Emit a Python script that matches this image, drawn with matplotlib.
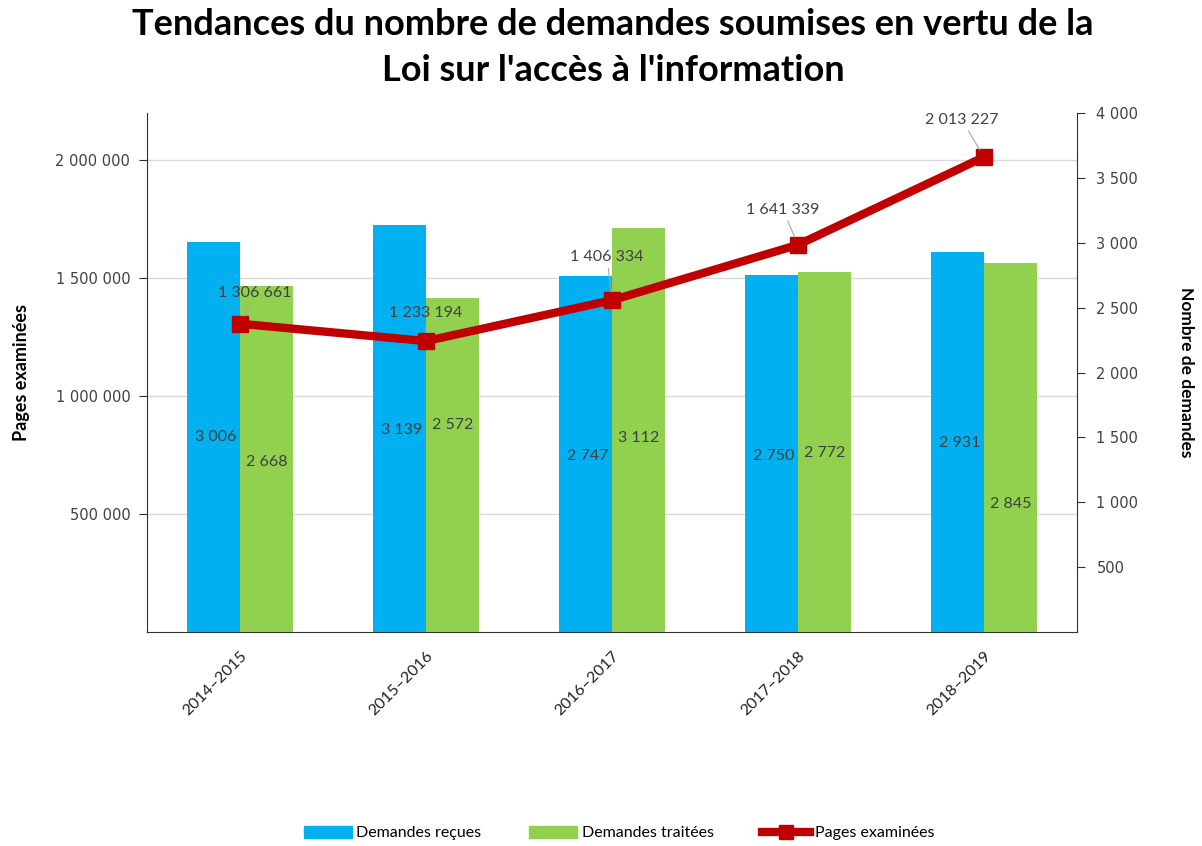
import numpy as np
import matplotlib.pyplot as plt
from matplotlib.lines import Line2D
from matplotlib.patches import Patch

years = ["2014–2015", "2015–2016", "2016–2017", "2017–2018", "2018–2019"]
recues = [3006, 3139, 2747, 2750, 2931]
traitees = [2668, 2572, 3112, 2772, 2845]
pages = [1306661, 1233194, 1406334, 1641339, 2013227]

# positions of the data labels (as in the original chart)
recues_lab_y = [1503, 1557, 1356, 1356, 1457]
traitees_lab_y = [1310, 1595, 1495, 1380, 987]
pages_lab_off = [(15, 31), (0, 28), (-5, 43), (-15, 35), (-22, 37)]  # pixels

def fmt(v):
    return f"{v:,.0f}".replace(",", " ")

bleu = "#00B0F0"
vert = "#92D050"
rouge = "#C00000"
gris = "#404040"

fig = plt.figure(figsize=(12.02, 8.46), dpi=100)
pos = [147 / 1202, 1 - 632 / 846, 930 / 1202, 519 / 846]

# axe gauche : pages examinées (grille)
ax = fig.add_axes(pos)
ax.set_xlim(-0.5, 4.5)
ax.set_ylim(0, 2200000)
ax.set_yticks([500000, 1000000, 1500000, 2000000])
ax.set_yticklabels([fmt(v) for v in ax.get_yticks()], fontsize=10.5, color=gris)
ax.yaxis.grid(True, color="#d9d9d9", linewidth=1)
ax.set_axisbelow(True)
ax.set_ylabel("Pages examinées", fontsize=13, fontweight="bold", family="Lato", labelpad=18)
for s in ["top", "right"]:
    ax.spines[s].set_visible(False)
ax.spines["left"].set_color("#303030")
ax.spines["bottom"].set_color("#303030")
ax.tick_params(axis="y", length=6, color="#303030", pad=6)
x = np.arange(len(years))
ax.set_xticks(x)
ax.set_xticklabels(years, rotation=45, ha="right", rotation_mode="anchor",
                   fontsize=11.5, family="Lato", color="#202020")
ax.tick_params(axis="x", length=0, pad=12)

# axe droit : nombre de demandes (barres)
axb = ax.twinx()
axb.patch.set_visible(False)
axb.set_ylim(0, 4000)
w = 0.285
axb.bar(x - w / 2, recues, w, color=bleu)
axb.bar(x + w / 2, traitees, w, color=vert)
axb.set_yticks(np.arange(500, 4001, 500))
axb.set_yticklabels([fmt(v) for v in axb.get_yticks()], fontsize=10.5, color=gris)
axb.tick_params(axis="y", length=6, color="#303030", pad=8)
for s in ["top", "left", "bottom"]:
    axb.spines[s].set_visible(False)
axb.spines["right"].set_color("#303030")
axb.set_ylabel("Nombre de demandes", fontsize=12.5, fontweight="bold", family="Lato",
               rotation=-90, labelpad=40)
for i in range(len(years)):
    axb.text(x[i] - w / 2 + 0.01, recues_lab_y[i], fmt(recues[i]), ha="center", va="center",
             fontsize=11.5, family="Lato", color=gris)
    axb.text(x[i] + w / 2, traitees_lab_y[i], fmt(traitees[i]), ha="center", va="center",
             fontsize=11.5, family="Lato", color=gris)

# ligne : pages examinées, au-dessus des barres
axl = fig.add_axes(pos, sharex=ax, sharey=ax)
axl.patch.set_visible(False)
axl.axis("off")
axl.plot(x, pages, color=rouge, linewidth=6, marker="s", markersize=12)
for i in range(len(years)):
    dx, dy = pages_lab_off[i]
    axl.annotate(fmt(pages[i]), (x[i], pages[i]), xytext=(dx * 0.72, dy * 0.72),
                 textcoords="offset points", ha="center", va="center",
                 fontsize=11.5, family="Lato", color=gris,
                 arrowprops=dict(arrowstyle="-", color="#a6a6a6", lw=0.8,
                                 shrinkA=1, shrinkB=6))

fig.suptitle("Tendances du nombre de demandes soumises en vertu de la\nLoi sur l'accès à l'information",
             x=0.51, fontsize=26, fontweight="bold", family="Lato", y=0.99, linespacing=1.45)

handles = [Patch(color=bleu), Patch(color=vert),
           Line2D([], [], color=rouge, linewidth=6, marker="s", markersize=10)]
fig.legend(handles, ["Demandes reçues", "Demandes traitées", "Pages examinées"],
           loc="center", bbox_to_anchor=(0.515, 1 - 833 / 846), ncol=3, frameon=False,
           prop={"family": "Lato", "size": 11.5}, handlelength=3, handleheight=0.8,
           columnspacing=3.0, handletextpad=0.3)

fig.savefig("out.png", dpi=100, facecolor="white")
